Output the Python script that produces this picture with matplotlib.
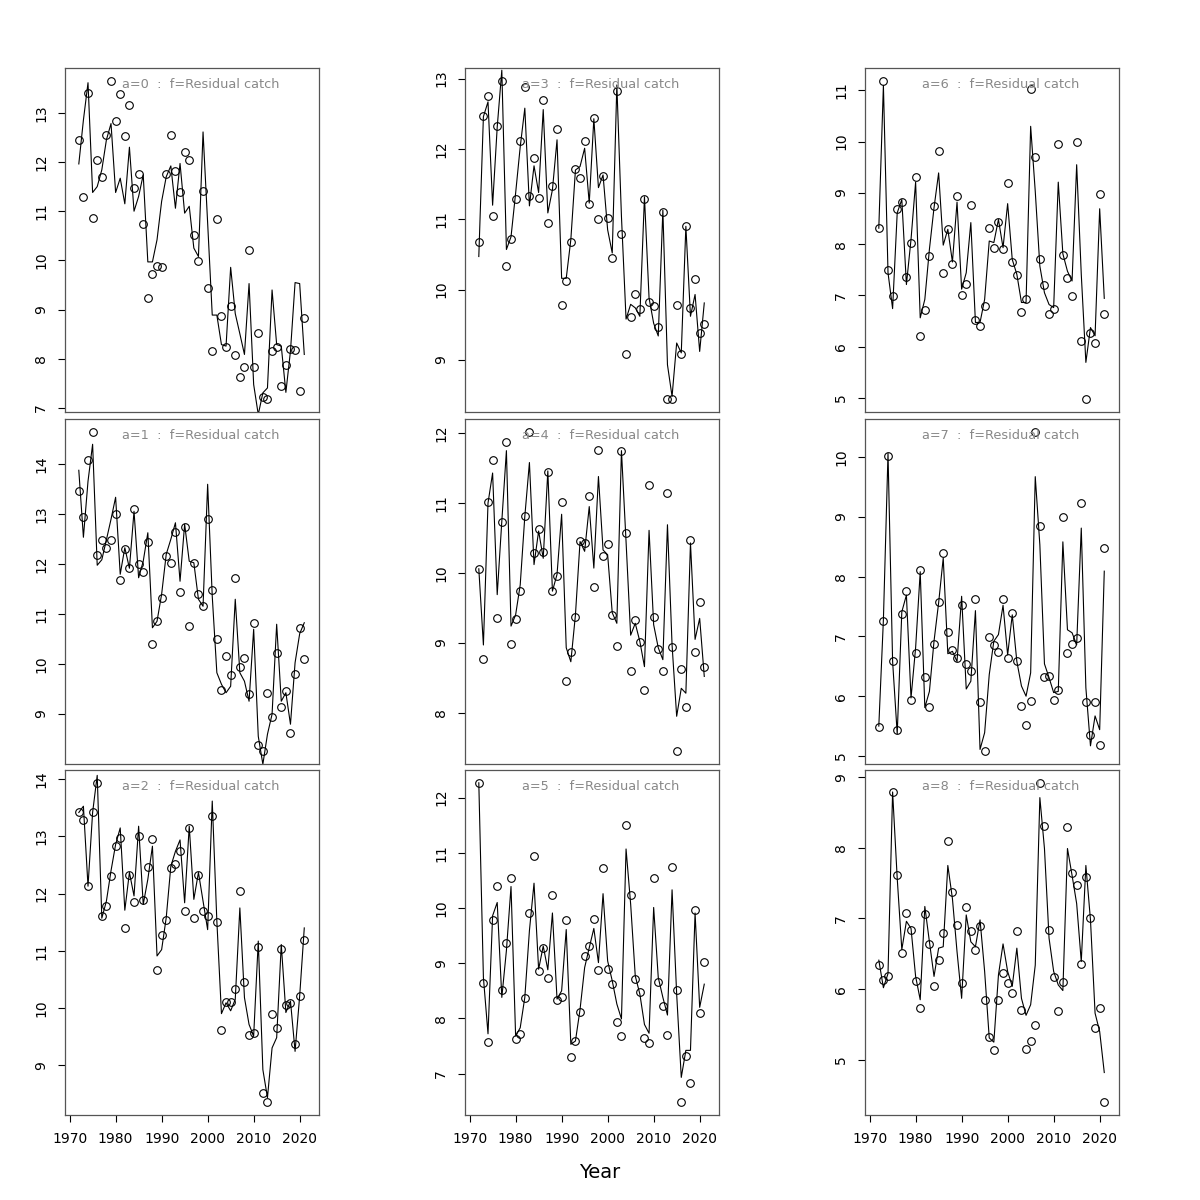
# residual catch by age, observed points vs fitted line
import numpy as np
import matplotlib.pyplot as plt

years = np.arange(1972, 2022)
xticks = [1970, 1980, 1990, 2000, 2010, 2020]

# observed (circles) and fitted (line) for each age
obs0 = [12.45, 11.28, 13.41, 10.86, 12.05, 11.69, 12.55, 13.65, 12.83, 13.38,
        12.53, 13.15, 11.47, 11.75, 10.73, 9.24, 9.72, 9.89, 9.86, 11.76,
        12.54, 11.82, 11.40, 12.21, 12.03, 10.51, 9.99, 11.42, 9.44, 8.17,
        10.84, 8.87, 8.24, 9.08, 8.08, 7.63, 7.84, 10.22, 7.84, 8.53,
        7.23, 7.18, 8.16, 8.24, 7.44, 7.87, 8.20, 8.18, 7.34, 8.83]
fit0 = [11.96, 12.85, 13.61, 11.38, 11.50, 11.84, 12.45, 12.78, 11.38, 11.67,
        11.15, 12.30, 11.00, 11.30, 11.74, 9.97, 9.97, 10.42, 11.20, 11.70,
        11.92, 11.06, 11.97, 10.96, 11.10, 10.25, 10.08, 12.61, 10.76, 8.89,
        8.89, 8.29, 8.26, 9.86, 8.92, 8.51, 8.09, 9.53, 7.48, 6.87,
        7.31, 7.41, 9.40, 8.29, 8.26, 7.32, 8.16, 9.55, 9.53, 8.09]

obs1 = [13.46, 12.93, 14.07, 14.64, 12.17, 12.48, 12.31, 12.48, 13.00, 11.67,
        12.29, 11.91, 13.09, 12.00, 11.83, 12.44, 10.40, 10.85, 11.31, 12.15,
        12.02, 12.63, 11.43, 12.73, 10.75, 12.01, 11.39, 11.15, 12.90, 11.47,
        10.49, 9.48, 10.15, 9.78, 11.71, 9.93, 10.12, 9.39, 10.81, 8.37,
        8.25, 9.41, 8.93, 10.22, 9.14, 9.45, 8.62, 9.79, 10.72, 10.09]
fit1 = [13.87, 12.53, 13.65, 14.39, 11.97, 12.08, 12.48, 12.89, 13.33, 11.79,
        12.32, 11.91, 13.05, 11.72, 12.05, 12.62, 10.72, 10.85, 11.39, 12.19,
        12.49, 12.82, 11.65, 12.79, 12.05, 12.02, 11.29, 11.15, 13.59, 11.35,
        9.82, 9.59, 9.42, 9.55, 11.29, 9.82, 9.65, 9.25, 10.69, 8.55,
        7.99, 8.59, 8.99, 10.79, 9.25, 9.42, 8.79, 10.02, 10.60, 10.82]

obs2 = [13.42, 13.28, 12.13, 13.42, 13.94, 11.60, 11.78, 12.30, 12.83, 12.97,
        11.40, 12.32, 11.85, 13.00, 11.88, 12.47, 12.96, 10.67, 11.27, 11.53,
        12.45, 12.51, 12.74, 11.69, 13.14, 11.58, 12.33, 11.70, 11.61, 13.36,
        11.51, 9.62, 10.11, 10.11, 10.34, 12.05, 10.46, 9.53, 9.56, 11.07,
        8.52, 8.35, 9.90, 9.65, 11.03, 10.06, 10.09, 9.37, 10.21, 11.19]
fit2 = [13.42, 13.53, 12.13, 13.42, 14.07, 11.57, 11.87, 12.40, 12.86, 13.15,
        11.71, 12.37, 11.96, 13.18, 11.81, 12.25, 12.83, 10.91, 11.02, 11.58,
        12.48, 12.74, 12.94, 11.84, 13.18, 11.90, 12.37, 11.87, 11.37, 13.62,
        11.52, 9.90, 10.09, 9.95, 10.15, 11.75, 10.18, 9.71, 9.51, 11.17,
        8.92, 8.43, 9.30, 9.48, 11.11, 9.92, 10.12, 9.24, 10.21, 11.40]

obs3 = [10.67, 12.47, 12.75, 11.04, 12.32, 12.97, 10.34, 10.72, 11.29, 12.11,
        12.88, 11.33, 11.87, 11.30, 12.70, 10.94, 11.48, 12.29, 9.78, 10.12,
        10.67, 11.72, 11.58, 12.12, 11.21, 12.44, 11.01, 11.61, 11.02, 10.45,
        12.83, 10.79, 9.09, 9.61, 9.93, 9.72, 11.29, 9.82, 9.76, 9.47,
        11.10, 8.44, 8.44, 9.78, 9.08, 10.91, 9.74, 10.15, 9.38, 9.51]
fit3 = [10.47, 12.46, 12.67, 11.20, 12.31, 13.12, 10.57, 10.75, 11.37, 12.03,
        12.58, 11.19, 11.76, 11.38, 12.56, 11.09, 11.42, 12.13, 10.16, 10.16,
        10.71, 11.70, 11.75, 12.01, 11.23, 12.43, 11.45, 11.63, 10.85, 10.52,
        12.91, 11.04, 9.58, 9.79, 9.74, 9.62, 11.32, 9.88, 9.52, 9.34,
        11.13, 8.93, 8.48, 9.24, 9.10, 10.90, 9.62, 9.93, 9.12, 9.81]

obs4 = [10.06, 8.77, 11.01, 11.62, 9.35, 10.73, 11.88, 8.98, 9.34, 9.74,
        10.81, 12.02, 10.29, 10.63, 10.30, 11.44, 9.74, 9.95, 11.01, 8.45,
        8.87, 9.37, 10.46, 10.43, 11.10, 9.80, 11.76, 10.25, 10.41, 9.40,
        8.96, 11.75, 10.57, 8.60, 9.33, 9.01, 8.33, 11.26, 9.37, 8.91,
        8.60, 11.14, 8.94, 7.45, 8.62, 8.08, 10.47, 8.87, 9.59, 8.65]
fit4 = [10.06, 8.97, 11.00, 11.43, 9.69, 10.74, 11.75, 9.24, 9.40, 9.83,
        10.81, 11.58, 10.12, 10.60, 10.21, 11.46, 9.74, 9.98, 10.84, 8.93,
        8.73, 9.40, 10.45, 10.31, 10.95, 10.07, 11.38, 10.33, 10.26, 9.43,
        9.28, 11.75, 10.45, 9.11, 9.28, 9.02, 8.66, 10.61, 9.26, 8.93,
        8.76, 10.69, 8.97, 7.95, 8.35, 8.28, 10.43, 9.05, 9.35, 8.52]

obs5 = [12.27, 8.64, 7.57, 9.79, 10.40, 8.52, 9.37, 10.55, 7.62, 7.71,
        8.36, 9.91, 10.94, 8.86, 9.27, 8.74, 10.23, 8.34, 8.38, 9.78,
        7.30, 7.59, 8.12, 9.13, 9.32, 9.81, 8.87, 10.72, 8.89, 8.63,
        7.94, 7.68, 11.50, 10.23, 8.71, 8.47, 7.65, 7.55, 10.54, 8.66,
        8.22, 7.70, 10.75, 8.52, 6.48, 7.31, 6.82, 9.96, 8.09, 9.03]
fit5 = [12.27, 8.74, 7.72, 9.86, 10.10, 8.38, 9.23, 10.39, 7.68, 7.83,
        8.38, 9.59, 10.45, 8.89, 9.31, 8.88, 9.91, 8.35, 8.50, 9.61,
        7.53, 7.59, 8.16, 8.92, 9.28, 9.63, 9.01, 10.26, 9.04, 8.68,
        8.26, 7.99, 11.07, 10.07, 8.77, 8.44, 7.89, 7.73, 10.01, 8.74,
        8.38, 8.06, 10.33, 8.44, 6.93, 7.42, 7.42, 9.91, 8.20, 8.62]

obs6 = [8.31, 11.19, 7.49, 6.98, 8.68, 8.82, 7.36, 8.03, 9.32, 6.21,
        6.71, 7.77, 8.74, 9.82, 7.43, 8.29, 7.61, 8.94, 7.01, 7.23,
        8.76, 6.51, 6.40, 6.80, 8.31, 7.92, 8.44, 7.90, 9.20, 7.65,
        7.39, 6.67, 6.92, 11.03, 9.71, 7.71, 7.21, 6.63, 6.73, 9.95,
        7.79, 7.34, 6.98, 9.99, 6.11, 4.97, 6.26, 6.07, 8.98, 6.64]
fit6 = [8.31, 11.10, 7.44, 6.74, 8.61, 8.87, 7.21, 8.09, 9.21, 6.56,
        6.92, 7.90, 8.71, 9.39, 7.98, 8.29, 7.65, 8.82, 7.12, 7.44,
        8.42, 6.47, 6.47, 6.92, 8.06, 8.03, 8.48, 7.93, 8.79, 7.70,
        7.41, 6.86, 6.86, 10.30, 9.03, 7.57, 7.05, 6.82, 6.76, 9.21,
        7.81, 7.47, 7.28, 9.55, 7.41, 5.69, 6.37, 6.21, 8.69, 6.94]

obs7 = [5.49, 7.25, 10.02, 6.58, 5.43, 7.38, 7.76, 5.93, 6.72, 8.11,
        6.32, 5.82, 6.88, 7.57, 8.40, 7.08, 6.78, 6.64, 7.52, 6.53,
        6.42, 7.63, 5.91, 5.08, 6.99, 6.85, 6.74, 7.63, 6.64, 7.39,
        6.59, 5.83, 5.52, 5.92, 10.42, 8.84, 6.32, 6.34, 5.94, 6.11,
        9.00, 6.73, 6.87, 6.97, 9.23, 5.91, 5.35, 5.91, 5.19, 8.47]
fit7 = [5.50, 7.28, 10.06, 6.58, 5.37, 7.41, 7.69, 5.97, 6.81, 8.08,
        5.81, 6.08, 6.92, 7.56, 8.31, 6.71, 6.75, 6.58, 7.67, 6.12,
        6.25, 7.43, 5.11, 5.39, 6.36, 6.92, 7.03, 7.52, 6.69, 7.36,
        6.58, 6.17, 6.00, 6.39, 9.67, 8.53, 6.54, 6.31, 6.06, 6.08,
        8.58, 7.11, 7.06, 6.86, 8.81, 6.14, 5.17, 5.67, 5.44, 8.09]

obs8 = [6.34, 6.13, 6.18, 8.79, 7.61, 6.51, 7.08, 6.84, 6.12, 5.74,
        7.06, 6.64, 6.05, 6.41, 6.80, 8.09, 7.37, 6.91, 6.09, 7.16,
        6.82, 6.56, 6.90, 5.85, 5.32, 5.14, 5.85, 6.23, 6.08, 5.94,
        6.82, 5.70, 5.16, 5.26, 5.49, 8.92, 8.31, 6.84, 6.17, 5.69,
        6.10, 8.29, 7.64, 7.48, 6.35, 7.59, 7.00, 5.45, 5.73, 4.40]
fit8 = [6.41, 6.02, 6.22, 8.79, 7.57, 6.56, 6.96, 6.86, 6.18, 5.85,
        7.17, 6.67, 6.18, 6.58, 6.60, 7.75, 7.28, 6.53, 5.87, 7.05,
        6.67, 6.60, 6.98, 6.25, 5.31, 5.25, 6.20, 6.64, 6.25, 6.04,
        6.58, 5.87, 5.63, 5.78, 6.34, 8.71, 7.99, 6.72, 6.25, 6.06,
        5.98, 7.99, 7.61, 7.21, 6.39, 7.75, 6.98, 5.66, 5.40, 4.82]

yticks = [[7, 8, 9, 10, 11, 12, 13], [9, 10, 11, 12, 13, 14], [9, 10, 11, 12, 13, 14],
          [9, 10, 11, 12, 13], [8, 9, 10, 11, 12], [7, 8, 9, 10, 11, 12],
          [5, 6, 7, 8, 9, 10, 11], [5, 6, 7, 8, 9, 10], [5, 6, 7, 8, 9]]

obs_all = [obs0, obs1, obs2, obs3, obs4, obs5, obs6, obs7, obs8]
fit_all = [fit0, fit1, fit2, fit3, fit4, fit5, fit6, fit7, fit8]

fig = plt.figure(figsize=(12, 12), dpi=100)
lefts = [65, 465, 865]
tops = [68, 419, 770]
heights = [344, 345, 345]
W = 254

for k in range(9):
    col, row = k // 3, k % 3
    ax = fig.add_axes([lefts[col] / 1200, 1 - (tops[row] + heights[row]) / 1200,
                       W / 1200, heights[row] / 1200])
    obs = obs_all[k]
    ax.plot(years, fit_all[k], color='black', lw=0.8)
    ax.plot(years, obs, 'o', mfc='none', mec='black', ms=5.5, mew=0.8)
    lo, hi = min(obs), max(obs)
    pad = 0.04 * (hi - lo)
    ax.set_ylim(lo - pad, hi + pad)
    ax.set_xlim(1969, 2024.2)
    ax.set_yticks(yticks[k])
    ax.set_yticklabels([str(v) for v in yticks[k]], rotation=90, va='center')
    ax.set_xticks(xticks)
    ax.tick_params(axis='y', length=5, width=0.8, pad=7, labelsize=10)
    if row == 2:
        ax.tick_params(axis='x', length=5, width=0.8, pad=7, labelsize=10)
    else:
        ax.tick_params(axis='x', length=0, labelbottom=False)
    for s in ax.spines.values():
        s.set_color('#555555')
        s.set_linewidth(0.9)
    ax.text(0.535, 0.953, f"a={k}  :  f=Residual catch", transform=ax.transAxes,
            ha='center', va='center', color='#888888', fontsize=9.3)

fig.text(0.5, 1 - 1172 / 1200, 'Year', ha='center', va='center', fontsize=14)
fig.savefig('out.png', dpi=100)
